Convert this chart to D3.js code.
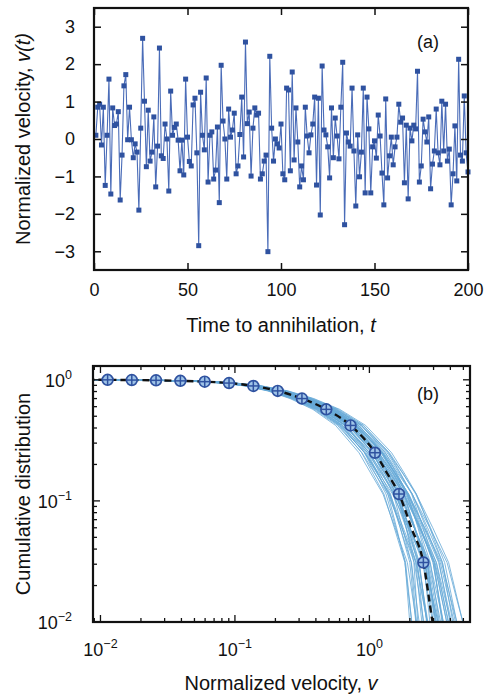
<!DOCTYPE html>
<html><head><meta charset="utf-8">
<script src="https://cdn.jsdelivr.net/npm/d3@7"></script>
<style>body{margin:0;background:#fff}svg{display:block}text{font-family:"Liberation Sans",Arial,Helvetica,sans-serif;fill:#111}</style>
</head><body><svg id="c" width="484" height="696"></svg>
<script>
// ---------- Panel (a): velocity time series ----------
const velocity = [
 0.1,0.85,0.93,-0.16,0.85,-1.24,0.1,1.6,-1.47,0.83,0.36,0.4,0.73,-1.63,-0.43,1.42,1.72,-0.02,0.85,-0.02,-0.5,-0.13,-0.35,-1.9,0.29,
 2.69,1.01,-0.74,0.77,-0.59,-0.35,0.59,-1.28,-0.19,2.43,-0.45,-0.52,0.4,0,-1.39,1.28,0.1,0.31,0.4,-0.03,-0.85,-0.03,-0.96,1.6,0.05,-0.6,
 -0.72,0.91,1.09,-0.37,-2.85,1.25,0.1,-0.29,1.63,-1.15,0.1,0.19,-1.07,-0.83,0.32,-1.7,1.97,0.48,0,-1.07,0.8,0.05,0.24,0.69,-0.93,
 -0.72,0.12,1.12,-0.48,2.59,0.41,0.72,-0.99,0.29,0.83,0.64,0.69,-1.07,-0.93,-0.59,-0.43,-3.01,2.21,0.29,-0.59,0,-0.13,-0.24,0.4,-0.93,
 -1.09,1.36,1.31,-0.85,1.79,-0.56,0.83,-0.08,-1.28,-0.72,-1.09,0.85,0.08,-0.37,0.11,0.4,1.12,-1.23,1.09,-2.03,1.95,0.24,0.11,-0.21,-1.04,0.83,
 -0.5,0.56,0.08,-0.53,0.85,2.05,-2.29,0.16,-0.08,-0.19,1.36,-0.32,-1.79,0.11,-1.01,-0.35,1.36,-1.44,1.12,0.27,-1.44,-0.21,-0.05,-0.51,0.64,
 0.08,-0.91,-1.76,1.07,-1.04,-0.45,0.05,-0.69,-0.21,0.05,0.93,0.45,0.56,-1.17,0.37,-1.6,0.29,-0.05,0.37,0.27,1.81,-1.15,-0.72,0.53,0.19,-0.08,
 0.59,-1.33,-0.67,-0.32,0.8,-0.37,-0.69,1.01,-0.32,0.93,-0.59,-0.27,-1.76,-0.93,0.35,-1.12,2.13,-0.43,-0.59,1.15,-0.37,-0.88
];
const timeTicks = [0, 50, 100, 150, 200];
const velTicks = [-3, -2, -1, 0, 1, 2, 3];

// ---------- Panel (b): cumulative distribution ----------
const meanV = [0.008, 0.0113, 0.0171, 0.0259, 0.0393, 0.0596, 0.0904, 0.137, 0.208, 0.315, 0.478, 0.724, 1.10, 1.35, 1.66, 2.05, 2.52, 2.95, 3.5];
const meanP = [1.0, 0.999, 0.995, 0.99, 0.98, 0.965, 0.94, 0.89, 0.81, 0.70, 0.57, 0.42, 0.25, 0.17, 0.114, 0.06, 0.031, 0.01, 0.004];
const markerV = [0.0113, 0.0171, 0.0259, 0.0393, 0.0596, 0.0904, 0.137, 0.208, 0.315, 0.478, 0.724, 1.10, 1.66, 2.52];
const markerP = [0.999, 0.995, 0.99, 0.98, 0.965, 0.94, 0.89, 0.81, 0.70, 0.57, 0.42, 0.25, 0.114, 0.031];
// spread weights of individual realizations along the mean curve (body / tail)
const bodyWeight = [0.06,0.06,0.09,0.12,0.15,0.2,0.26,0.32,0.38,0.44,0.5,0.55,0.58,0.58,0.56,0.55,0.52,0.5,0.5];
const tailWeight = [0,0,0,0,0,0,0,0,0,0,0,0.05,0.15,0.25,0.35,0.55,0.75,1,1.1];
// per-realization log10 offsets (body, tail)
const realizations = [
 [-0.18,0.05],[-0.15,-0.08],[-0.12,0.1],[-0.1,-0.05],[-0.08,0.12],[-0.07,0.0],[-0.05,-0.1],[-0.04,0.08],
 [-0.03,0.15],[-0.02,-0.03],[-0.01,0.05],[0,-0.12],[0.01,0.1],[0.02,0.02],[0.03,-0.06],[0.04,0.14],
 [0.05,0.0],[0.06,-0.1],[0.07,0.08],[0.08,0.04],[0.09,-0.04],[0.1,0.12],[0.11,0.02],[0.12,-0.08],
 [0.14,0.06],[0.16,0.1],[0.18,-0.02],[0.2,0.05],[-0.2,-0.02],[-0.14,0.03],[0.0,0.18],[0.05,0.2],
 [-0.06,-0.14],[0.13,0.16],[-0.09,0.07],[0.03,0.09],[-0.16,0.12],[-0.11,-0.1],[0.08,-0.15],[0.15,-0.06],
 [-0.04,0.02],[0.02,-0.09],[0.1,0.0],[-0.13,0.0],[0.06,0.11],[-0.02,0.13]
];
const decadesX = [0.01, 0.1, 1];
const decadesY = [0.01, 0.1, 1];

const svg = d3.select("#c");
const MARK = "#2f52a0", LINE = "#4a6cb8", BAND = "#67a9d8";

// ===== Panel (a) =====
const xA = d3.scaleLinear().domain([0, 200]).range([94, 468]);
const yA = d3.scaleLinear().domain([-3.5, 3.5]).range([270, 8]);
const gA = svg.append("g");
gA.append("path").datum(velocity)
  .attr("d", d3.line().x((d, i) => xA(i + 1)).y(d => yA(d)))
  .attr("fill", "none").attr("stroke", LINE).attr("stroke-width", 1.1);
gA.selectAll("rect.pt").data(velocity).join("rect").attr("class", "pt")
  .attr("x", (d, i) => xA(i + 1) - 2.5).attr("y", d => yA(d) - 2.5)
  .attr("width", 5).attr("height", 5).attr("fill", MARK);

function styleAxis(g){ g.select(".domain").remove(); g.selectAll("line").attr("stroke","#111").attr("stroke-width",1.5); g.selectAll("text").style("font-size","18px").attr("fill","#111"); }
const fmt = d => d < 0 ? "\u2212" + Math.abs(d) : String(d);
gA.append("g").attr("transform","translate(0,270)").call(d3.axisBottom(xA).tickValues(timeTicks).tickSize(-7).tickPadding(13).tickFormat(fmt)).call(styleAxis);
gA.append("g").attr("transform","translate(0,8)").call(d3.axisTop(xA).tickValues(timeTicks).tickSize(-7).tickFormat("")).call(styleAxis);
gA.append("g").attr("transform","translate(94,0)").call(d3.axisLeft(yA).tickValues(velTicks).tickSize(-7).tickPadding(19).tickFormat(fmt)).call(styleAxis);
gA.append("g").attr("transform","translate(468,0)").call(d3.axisRight(yA).tickValues(velTicks).tickSize(-7).tickFormat("")).call(styleAxis);
gA.append("rect").attr("x",94).attr("y",8).attr("width",374).attr("height",262).attr("fill","none").attr("stroke","#111").attr("stroke-width",2.2);
gA.append("text").attr("x",428).attr("y",48).attr("text-anchor","middle").style("font-size","18px").text("(a)");
const tA = gA.append("text").attr("x",281).attr("y",332).attr("text-anchor","middle").style("font-size","20px");
tA.append("tspan").text("Time to annihilation, ");
tA.append("tspan").attr("font-style","italic").text("t");
const yTA = gA.append("text").attr("transform","translate(30,139) rotate(-90)").attr("text-anchor","middle").style("font-size","20px");
yTA.append("tspan").text("Normalized velocity, ");
yTA.append("tspan").attr("font-style","italic").text("v(t)");

// ===== Panel (b) =====
const L=93, R=470, T=366, B=622;
const xB = d3.scaleLog().domain([0.0088, 5.6]).range([L, R]);
const yB = d3.scaleLog().domain([0.01, 1.3]).range([B, T]);
const gB = svg.append("g");
svg.append("defs").append("clipPath").attr("id","clipB").append("rect").attr("x",L).attr("y",T).attr("width",R-L).attr("height",B-T);
const plotB = gB.append("g").attr("clip-path","url(#clipB)");
const lineB = d3.line().x(d => xB(d[0])).y(d => yB(d[1]));
realizations.forEach(r => {
  const pts = meanV.map((v, i) => [v * Math.pow(10, r[0] * bodyWeight[i] + r[1] * tailWeight[i]), meanP[i]]);
  plotB.append("path").datum(pts).attr("d", lineB).attr("fill","none").attr("stroke",BAND).attr("stroke-width",0.9).attr("stroke-opacity",0.9);
});
plotB.append("path").datum(meanV.map((v,i)=>[v,meanP[i]])).attr("d", lineB.curve(d3.curveMonotoneX))
  .attr("fill","none").attr("stroke","#111").attr("stroke-width",2.4).attr("stroke-dasharray","7,4");
const mk = plotB.selectAll("g.mk").data(markerV.map((v,i)=>[v,markerP[i]])).join("g").attr("class","mk")
  .attr("transform", d => `translate(${xB(d[0])},${yB(d[1])})`);
mk.append("circle").attr("r",5.4).attr("fill","#9fc4e8").attr("stroke",MARK).attr("stroke-width",1.7);
mk.append("line").attr("x1",-5.4).attr("x2",5.4).attr("stroke",MARK).attr("stroke-width",1.5);
mk.append("line").attr("y1",-5.4).attr("y2",5.4).attr("stroke",MARK).attr("stroke-width",1.5);

// log ticks
function logTicks(domain){ const out=[]; for (let e=-3;e<=1;e++) for (let m=1;m<=9;m++){ const v=m*Math.pow(10,e); if(v>=domain[0]&&v<=domain[1]) out.push(v);} return out; }
const isMajor = v => Math.abs(Math.log10(v) - Math.round(Math.log10(v))) < 1e-6;
const tx = logTicks(xB.domain()), ty = logTicks(yB.domain());
const tk = gB.append("g").attr("stroke","#111").attr("stroke-width",1.3);
tx.forEach(v => { const s = isMajor(v) ? 7 : 4, x = xB(v);
  tk.append("line").attr("x1",x).attr("x2",x).attr("y1",B).attr("y2",B-s);
  tk.append("line").attr("x1",x).attr("x2",x).attr("y1",T).attr("y2",T+s); });
ty.forEach(v => { const s = isMajor(v) ? 7 : 4, y = yB(v);
  tk.append("line").attr("x1",L).attr("x2",L+s).attr("y1",y).attr("y2",y);
  tk.append("line").attr("x1",R).attr("x2",R-s).attr("y1",y).attr("y2",y); });
gB.append("rect").attr("x",L).attr("y",T).attr("width",R-L).attr("height",B-T).attr("fill","none").attr("stroke","#111").attr("stroke-width",2.2);
function powLabel(g, x, y, v, anchor){
  const e = Math.round(Math.log10(v));
  const t = g.append("text").attr("x",x).attr("y",y).attr("text-anchor",anchor).style("font-size","18px");
  t.append("tspan").text("10");
  t.append("tspan").attr("dy",-8).style("font-size","12.5px").text(e < 0 ? "\u2212" + Math.abs(e) : String(e));
}
decadesX.forEach(v => powLabel(gB, xB(v), 656, v, "middle"));
decadesY.forEach(v => powLabel(gB, L - 21, yB(v) + 7, v, "end"));
gB.append("text").attr("x",428).attr("y",400).attr("text-anchor","middle").style("font-size","18px").text("(b)");
const tB = gB.append("text").attr("x",281).attr("y",690).attr("text-anchor","middle").style("font-size","20px");
tB.append("tspan").text("Normalized velocity, ");
tB.append("tspan").attr("font-style","italic").text("v");
gB.append("text").attr("transform","translate(30,494) rotate(-90)").attr("text-anchor","middle").style("font-size","20px").text("Cumulative distribution");
</script></body></html>
